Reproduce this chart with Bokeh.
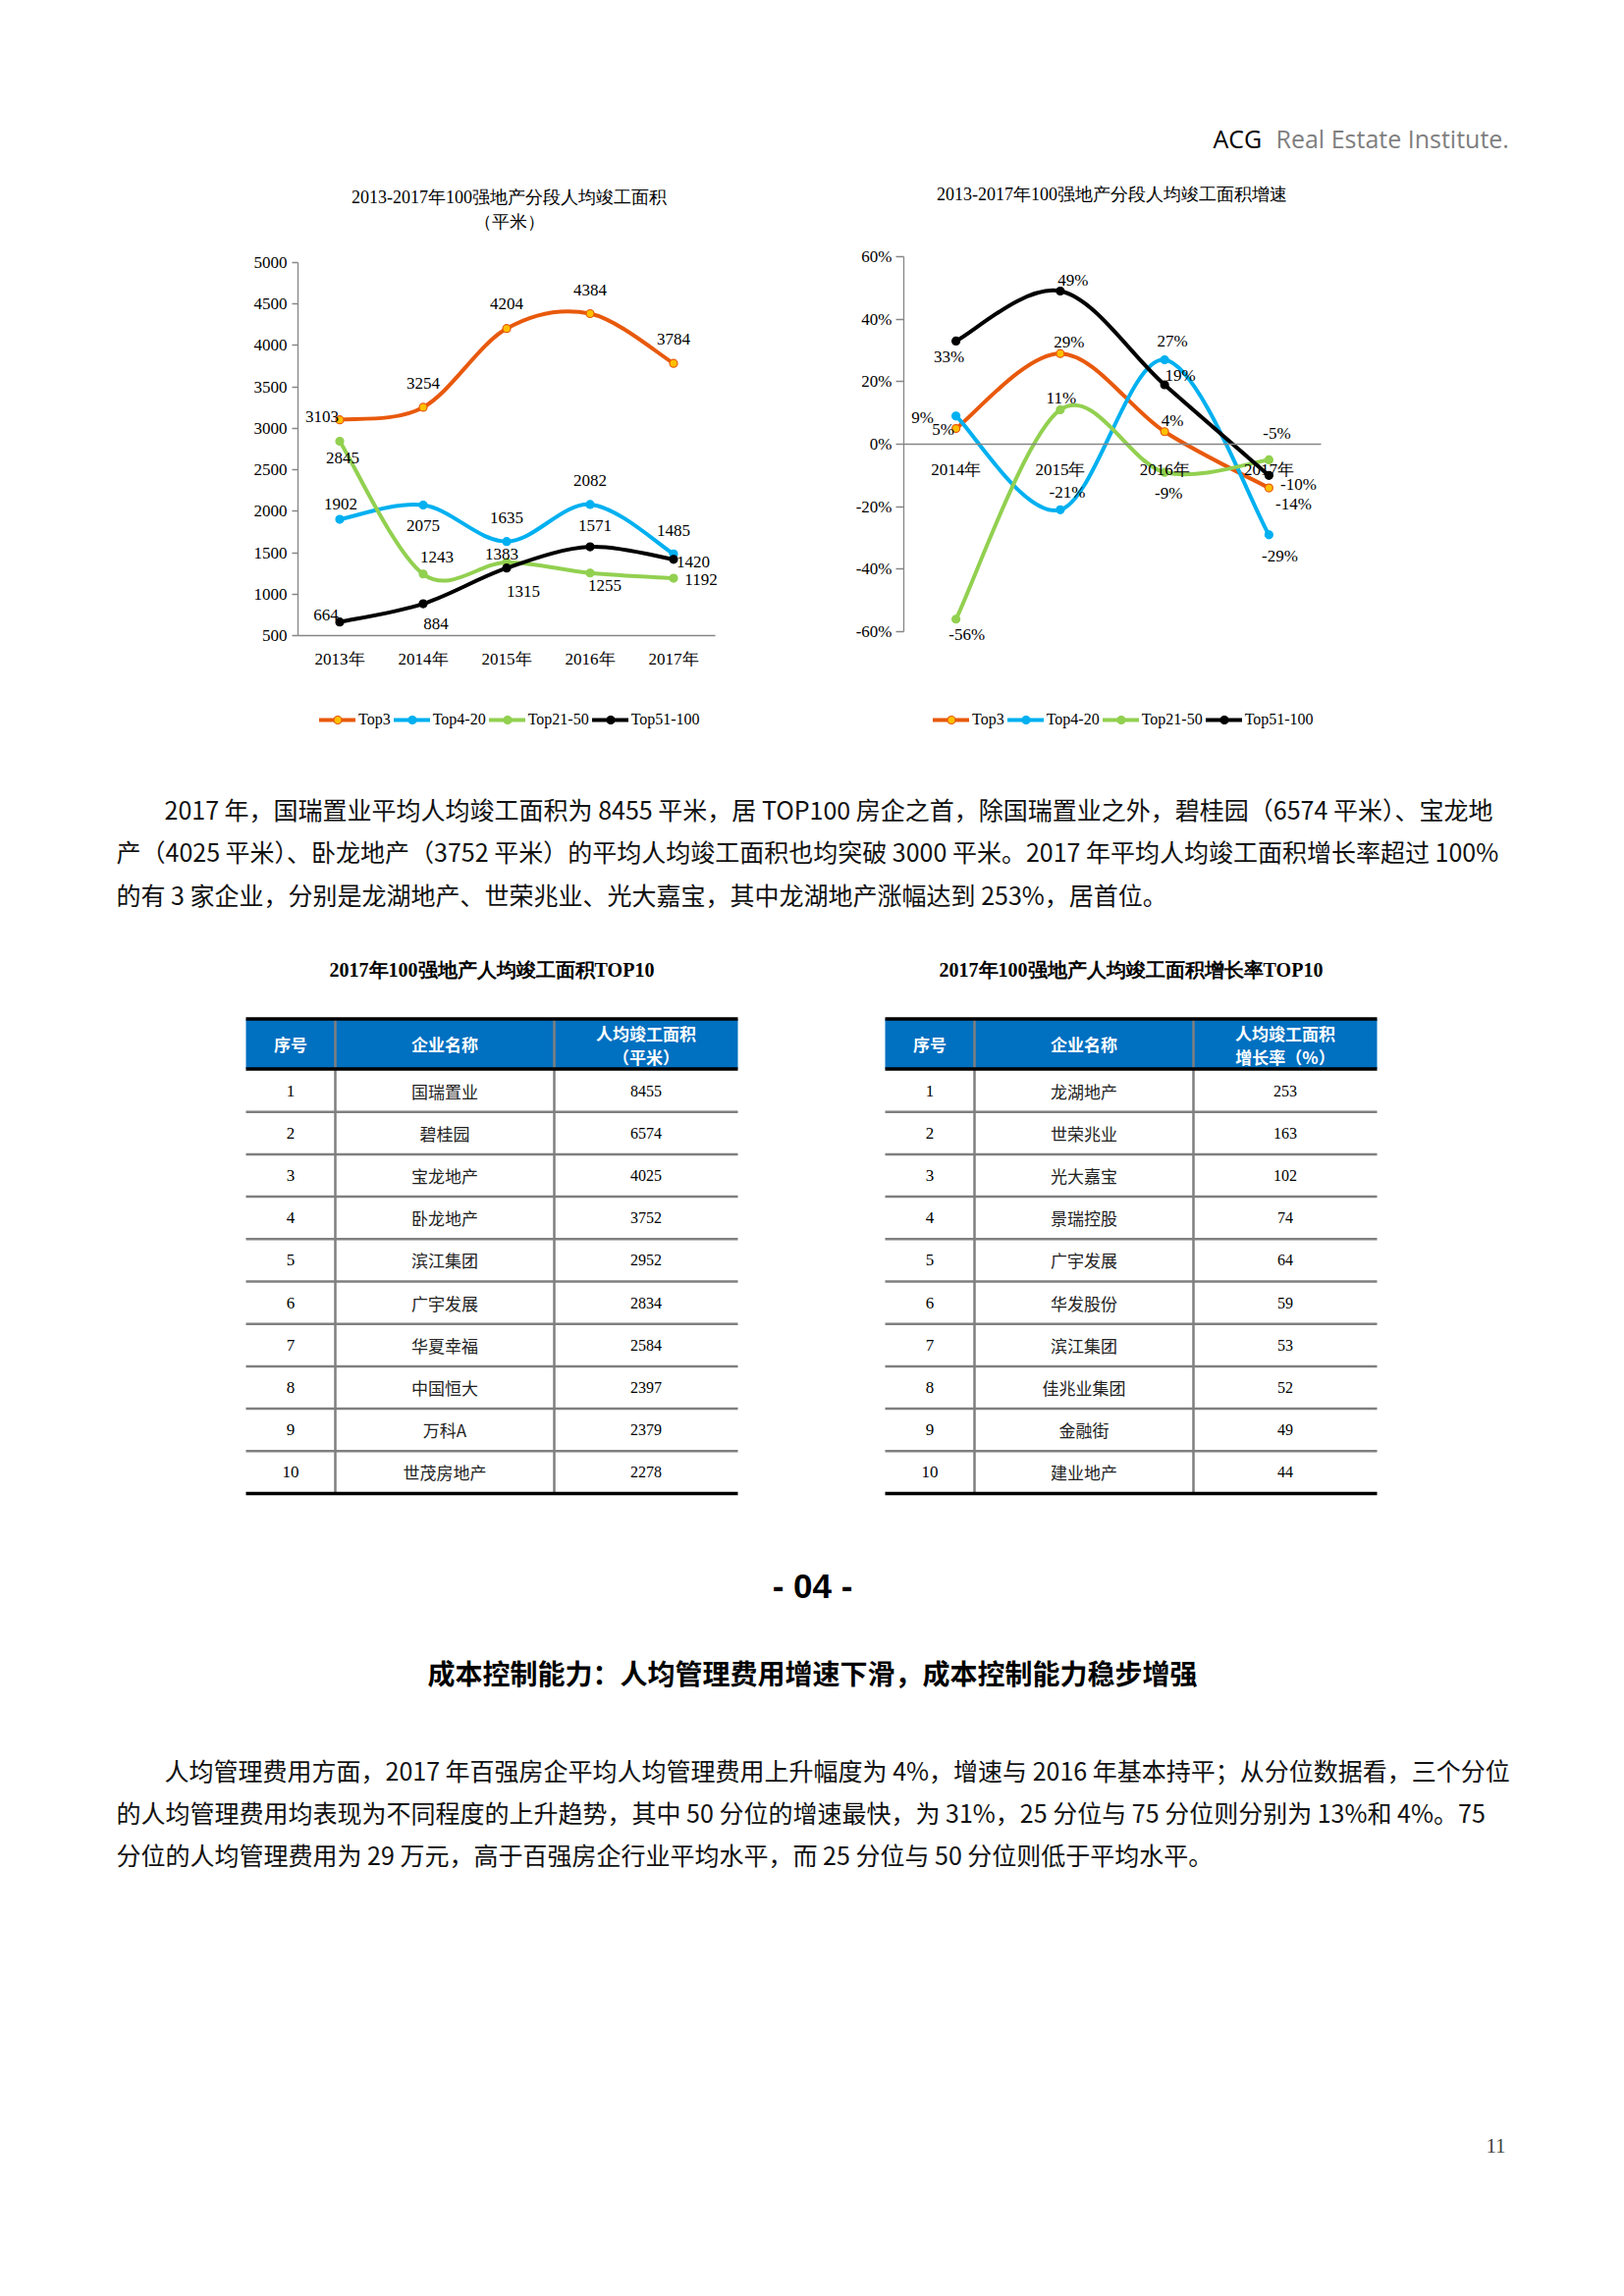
from bokeh.plotting import figure
from bokeh.models import (Range1d, FixedTicker, LinearAxis, Legend, LegendItem,
                          ColumnDataSource, PrintfTickFormatter)
from bokeh.layouts import column, row
from bokeh.embed import file_html
from bokeh.resources import INLINE
from bokeh.core.properties import value

# ---------------------------------------------------------------- data
SERIES_NAMES = ["Top3", "Top4-20", "Top21-50", "Top51-100"]

AREA_YEARS = ["2013年", "2014年", "2015年", "2016年", "2017年"]
AREA_TOP3 = [3103, 3254, 4204, 4384, 3784]
AREA_TOP4_20 = [1902, 2075, 1635, 2082, 1485]
AREA_TOP21_50 = [2845, 1243, 1383, 1255, 1192]
AREA_TOP51_100 = [664, 884, 1315, 1571, 1420]
AREA_TICKS = [500, 1000, 1500, 2000, 2500, 3000, 3500, 4000, 4500, 5000]

GROWTH_YEARS = ["2014年", "2015年", "2016年", "2017年"]
GROWTH_TOP3 = [5, 29, 4, -14]
GROWTH_TOP4_20 = [9, -21, 27, -29]
GROWTH_TOP21_50 = [-56, 11, -9, -5]
GROWTH_TOP51_100 = [33, 49, 19, -10]
GROWTH_TICKS = [-60, -40, -20, 0, 20, 40, 60]

TABLE_RANKS = [1, 2, 3, 4, 5, 6, 7, 8, 9, 10]
TABLE1_NAMES = ["国瑞置业", "碧桂园", "宝龙地产", "卧龙地产", "滨江集团",
                "广宇发展", "华夏幸福", "中国恒大", "万科A", "世茂房地产"]
TABLE1_VALUES = [8455, 6574, 4025, 3752, 2952, 2834, 2584, 2397, 2379, 2278]
TABLE2_NAMES = ["龙湖地产", "世荣兆业", "光大嘉宝", "景瑞控股", "广宇发展",
                "华发股份", "滨江集团", "佳兆业集团", "金融街", "建业地产"]
TABLE2_VALUES = [253, 163, 102, 74, 64, 59, 53, 52, 49, 44]

# ---------------------------------------------------------------- styles
SERIF = "Liberation Serif"
CJK = "Noto Sans CJK SC"
LINE_COLORS = ["#E8590C", "#00B0F0", "#92D050", "#000000"]
MARK_FILLS = ["#FFC000", "#00B0F0", "#92D050", "#000000"]
AXIS_GRAY = "#868686"

# label offsets in screen px (dx, dy down-positive)
OFFS_A = [
    [(-18, -3), (0, -24), (0, -25), (0, -24), (0, -25)],
    [(1, -16), (0, 21), (0, -24), (0, -24), (0, -24)],
    [(3, 17), (14, -17), (-5, -8), (15, 13), (28, 1)],
    [(-14, -7), (13, 20), (17, 24), (5, -22), (20, 3)],
]
OFFS_B = [
    [(-13, 1), (9, -12), (8, -11), (25, 16)],
    [(-34, 2), (7, -18), (8, -19), (11, 22)],
    [(11, 16), (1, -12), (4, 21), (8, -27)],
    [(-7, 16), (13, -11), (16, -10), (30, 9)],
]


def base_fig(w, h, xr, yr):
    p = figure(width=w, height=h, x_range=xr, y_range=yr, x_axis_type=None,
               y_axis_type=None, toolbar_location=None, output_backend="svg",
               min_border=0, outline_line_color=None)
    p.background_fill_color = "white"
    p.border_fill_color = "white"
    return p


def page_fig(w, h, x0, x1, y0, y1):
    # page pixel coordinates, y growing downward
    return base_fig(w, h, Range1d(x0, x1), Range1d(y1, y0))


def chart_fig(fx0, fx1, fy0, fy1, axl, axr, xv0, xv1, axt, axb, yvt, yvb):
    ppx = (axr - axl) / (xv1 - xv0)
    ppy = (axb - axt) / (yvt - yvb)
    xr = Range1d(xv0 - (axl - fx0) / ppx, xv1 + (fx1 - axr) / ppx)
    yr = Range1d(yvb - (fy1 - axb) / ppy, yvt + (axt - fy0) / ppy)
    p = base_fig(int(round(fx1 - fx0)), int(round(fy1 - fy0)), xr, yr)

    def tx(px):
        return xv0 + (px - axl) / ppx

    def ty(py):
        return yvt - (py - axt) / ppy
    return p, tx, ty


def smooth(xs, ys, k=1.0 / 6.0):
    n = len(xs)
    d = dict(x0=[], y0=[], x1=[], y1=[], cx0=[], cy0=[], cx1=[], cy1=[])
    for i in range(n - 1):
        a = i - 1 if i > 0 else i
        b = i + 2 if i + 2 < n else i + 1
        d["x0"].append(xs[i]); d["y0"].append(ys[i])
        d["x1"].append(xs[i + 1]); d["y1"].append(ys[i + 1])
        d["cx0"].append(xs[i] + (xs[i + 1] - xs[a]) * k)
        d["cy0"].append(ys[i] + (ys[i + 1] - ys[a]) * k)
        d["cx1"].append(xs[i + 1] - (xs[b] - xs[i]) * k)
        d["cy1"].append(ys[i + 1] - (ys[b] - ys[i]) * k)
    return d


def draw_series(p, xs, ys, labels, offs, idx):
    seg = ColumnDataSource(smooth(xs, ys))
    rl = p.bezier(x0="x0", y0="y0", x1="x1", y1="y1", cx0="cx0", cy0="cy0",
                  cx1="cx1", cy1="cy1", source=seg, line_color=LINE_COLORS[idx],
                  line_width=4, line_cap="round", line_join="round")
    rp = p.scatter(x=xs, y=ys, size=8, marker="circle", fill_color=MARK_FILLS[idx],
                   line_color=LINE_COLORS[idx], line_width=1.2)
    src = ColumnDataSource(dict(x=xs, y=ys, t=labels,
                                dx=[o[0] for o in offs], dy=[o[1] for o in offs]))
    p.text(x="x", y="y", text="t", x_offset="dx", y_offset="dy", source=src,
           text_font=value(SERIF), text_font_size="17px", text_color="#000000",
           text_align="center", text_baseline="middle")
    return LegendItem(label=SERIES_NAMES[idx], renderers=[rl, rp])


def add_legend(p, items, loc):
    leg = Legend(items=items, orientation="horizontal", location=loc, padding=0,
                 margin=0, spacing=3, glyph_width=37, glyph_height=20,
                 label_height=20, label_standoff=3, label_text_font=SERIF,
                 label_text_font_size="16px", label_text_color="#000000",
                 border_line_color=None, background_fill_alpha=0)
    p.add_layout(leg)


def style_axis(ax, font_size="17px"):
    ax.axis_line_color = AXIS_GRAY
    ax.axis_line_width = 1.3
    ax.major_tick_line_color = AXIS_GRAY
    ax.major_tick_line_width = 1.3
    ax.minor_tick_out = 0
    ax.minor_tick_in = 0
    ax.major_tick_in = 0
    ax.major_label_text_font = SERIF
    ax.major_label_text_font_size = font_size
    ax.major_label_text_color = "#000000"


# ---------------------------------------------------------------- header
hp = page_fig(1638, 165, 0, 1638, 0, 165)
hp.text(x=[1235], y=[140], text=["ACG"], text_font=value("Open Sans"),
        text_font_size="25px", text_color="#000000", text_align="left",
        text_baseline="middle")
hp.text(x=[1299], y=[140], text=["Real Estate Institute."], text_font=value("Open Sans"),
        text_font_size="25px", text_color="#7F7F7F", text_align="left",
        text_baseline="middle")

# ---------------------------------------------------------------- left chart
pa, ax_, ay_ = chart_fig(0, 819, 165, 760, 303, 728, 0.5, 5.5, 267, 647, 5000, 500)
yax = LinearAxis(fixed_location=0.5, bounds=(AREA_TICKS[0], AREA_TICKS[-1]),
                 ticker=FixedTicker(ticks=AREA_TICKS), major_label_standoff=5)
style_axis(yax)
yax.major_tick_out = 6
pa.add_layout(yax, "left")
xa_pos = list(range(1, len(AREA_YEARS) + 1))
xax = LinearAxis(fixed_location=AREA_TICKS[0], bounds=(0.5, len(AREA_YEARS) + 0.5),
                 ticker=FixedTicker(ticks=xa_pos),
                 major_label_overrides={i: lab for i, lab in zip(xa_pos, AREA_YEARS)},
                 major_label_standoff=14)
style_axis(xax)
xax.major_tick_out = 0
pa.add_layout(xax, "below")

items_a = []
for i, ser in enumerate([AREA_TOP3, AREA_TOP4_20, AREA_TOP21_50, AREA_TOP51_100]):
    items_a.append(draw_series(pa, xa_pos, ser, [str(v) for v in ser], OFFS_A[i], i))
add_legend(pa, items_a, (325, 17))
pa.text(x=[ax_(518), ax_(518)], y=[ay_(200), ay_(225)],
        text=["2013-2017年100强地产分段人均竣工面积", "（平米）"],
        text_font=value(SERIF), text_font_size="18px", text_color="#000000",
        text_align="center", text_baseline="middle")

# ---------------------------------------------------------------- right chart
pb, bx_, by_ = chart_fig(819, 1638, 165, 760, 920, 1345, 0.5, 4.5, 261, 643, 60, -60)
ybx = LinearAxis(fixed_location=0.5, bounds=(GROWTH_TICKS[0], GROWTH_TICKS[-1]),
                 ticker=FixedTicker(ticks=GROWTH_TICKS),
                 formatter=PrintfTickFormatter(format="%d%%"), major_label_standoff=4)
style_axis(ybx)
ybx.major_tick_out = 8
pb.add_layout(ybx, "left")
xb_pos = list(range(1, len(GROWTH_YEARS) + 1))
xbx = LinearAxis(fixed_location=0, bounds=(0.5, len(GROWTH_YEARS) + 0.5),
                 ticker=FixedTicker(ticks=xb_pos),
                 major_label_overrides={i: lab for i, lab in zip(xb_pos, GROWTH_YEARS)},
                 major_label_standoff=16)
style_axis(xbx)
xbx.major_tick_out = 0
pb.add_layout(xbx, "below")

items_b = []
for i, ser in enumerate([GROWTH_TOP3, GROWTH_TOP4_20, GROWTH_TOP21_50, GROWTH_TOP51_100]):
    items_b.append(draw_series(pb, xb_pos, ser, [f"{v}%" for v in ser], OFFS_B[i], i))
add_legend(pb, items_b, (131, 17))
pb.text(x=[bx_(1132)], y=[by_(197)], text=["2013-2017年100强地产分段人均竣工面积增速"],
        text_font=value(SERIF), text_font_size="18px", text_color="#000000",
        text_align="center", text_baseline="middle")

# ---------------------------------------------------------------- paragraph 1
PARA1 = [
    "2017 年，国瑞置业平均人均竣工面积为 8455 平米，居 TOP100 房企之首，除国瑞置业之外，碧桂园（6574 平米）、宝龙地",
    "产（4025 平米）、卧龙地产（3752 平米）的平均人均竣工面积也均突破 3000 平米。2017 年平均人均竣工面积增长率超过 100%",
    "的有 3 家企业，分别是龙湖地产、世荣兆业、光大嘉宝，其中龙湖地产涨幅达到 253%，居首位。",
]
mp = page_fig(1638, 200, 0, 1638, 760, 960)
mp.text(x=[167, 118, 118], y=[823, 866, 910], text=PARA1, text_font=value(CJK),
        text_font_size="25px", text_color="#111111", text_align="left",
        text_baseline="middle")

# ---------------------------------------------------------------- tables
ROW0, ROWH = 1067.4, 43.2


def rk(py):
    return (py - ROW0) / ROWH


tp = base_fig(1638, 585, Range1d(0, 1638), Range1d(rk(1545), rk(960)))


def draw_table(x0, c1, c2, x1, title, head3, names, vals):
    n = len(TABLE_RANKS)
    tp.text(x=[(x0 + x1) / 2], y=[rk(987)], text=[title], text_font=value(SERIF),
            text_font_style="bold", text_font_size="20px", text_color="#000000",
            text_align="center", text_baseline="middle")
    tp.quad(left=[x0], right=[x1], top=[rk(1038)], bottom=[rk(1088)],
            fill_color="#0070C0", line_color=None)
    # column separators
    tp.segment(x0=[c1, c2], x1=[c1, c2], y0=[rk(1038)] * 2, y1=[TABLE_RANKS[-1] + 0.5] * 2,
               line_color="#7F7F7F", line_width=2.5)
    # row separators
    seps = [r + 0.5 for r in TABLE_RANKS[:-1]]
    tp.segment(x0=[x0] * len(seps), x1=[x1] * len(seps), y0=seps, y1=seps,
               line_color="#7F7F7F", line_width=2.5)
    # thick black rules
    tp.segment(x0=[x0] * 3, x1=[x1] * 3,
               y0=[rk(1037.5), rk(1088.5), TABLE_RANKS[-1] + 0.5],
               y1=[rk(1037.5), rk(1088.5), TABLE_RANKS[-1] + 0.5],
               line_color="#000000", line_width=3.5)
    # header
    hdr_font = dict(text_font=value(CJK), text_font_style="bold", text_font_size="17px",
                    text_color="#FFFFFF", text_align="center", text_baseline="middle")
    tp.text(x=[(x0 + c1) / 2, (c1 + c2) / 2], y=[rk(1063)] * 2, text=["序号", "企业名称"],
            **hdr_font)
    tp.text(x=[(c2 + x1) / 2] * 2, y=[rk(1052), rk(1076)], text=head3, **hdr_font)
    # body
    tp.text(x=[(x0 + c1) / 2] * n, y=TABLE_RANKS, text=[str(r) for r in TABLE_RANKS],
            text_font=value(SERIF), text_font_size="17px", text_color="#000000",
            text_align="center", text_baseline="middle")
    tp.text(x=[(c1 + c2) / 2] * n, y=TABLE_RANKS, text=names,
            text_font=value(CJK), text_font_size="17px", text_color="#222222",
            text_align="center", text_baseline="middle")
    tp.text(x=[(c2 + x1) / 2] * n, y=TABLE_RANKS, text=[str(v) for v in vals],
            text_font=value(SERIF), text_font_size="16px", text_color="#000000",
            text_align="center", text_baseline="middle")


draw_table(250, 341, 564, 751, "2017年100强地产人均竣工面积TOP10",
           ["人均竣工面积", "（平米）"], TABLE1_NAMES, TABLE1_VALUES)
draw_table(901, 992, 1215, 1402, "2017年100强地产人均竣工面积增长率TOP10",
           ["人均竣工面积", "增长率（%）"], TABLE2_NAMES, TABLE2_VALUES)

# ---------------------------------------------------------------- bottom
PARA2 = [
    "人均管理费用方面，2017 年百强房企平均人均管理费用上升幅度为 4%，增速与 2016 年基本持平；从分位数据看，三个分位",
    "的人均管理费用均表现为不同程度的上升趋势，其中 50 分位的增速最快，为 31%，25 分位与 75 分位则分别为 13%和 4%。75",
    "分位的人均管理费用为 29 万元，高于百强房企行业平均水平，而 25 分位与 50 分位则低于平均水平。",
]
bp = page_fig(1638, 786, 0, 1638, 1545, 2331)
bp.text(x=[827], y=[1615], text=["- 04 -"], text_font=value("Liberation Sans"),
        text_font_style="bold", text_font_size="35px", text_color="#000000",
        text_align="center", text_baseline="middle")
bp.text(x=[827], y=[1703], text=["成本控制能力：人均管理费用增速下滑，成本控制能力稳步增强"],
        text_font=value(CJK), text_font_style="bold", text_font_size="28px",
        text_color="#000000", text_align="center", text_baseline="middle")
bp.text(x=[167, 118, 118], y=[1802, 1845, 1888], text=PARA2, text_font=value(CJK),
        text_font_size="25px", text_color="#111111", text_align="left",
        text_baseline="middle")
bp.text(x=[1523], y=[2185], text=["11"], text_font=value(SERIF), text_font_size="21px",
        text_color="#404040", text_align="center", text_baseline="middle")

page = column(hp, row(pa, pb, spacing=0), mp, tp, bp, spacing=0)

with open("out.html", "w") as f:
    f.write(file_html(page, INLINE))
